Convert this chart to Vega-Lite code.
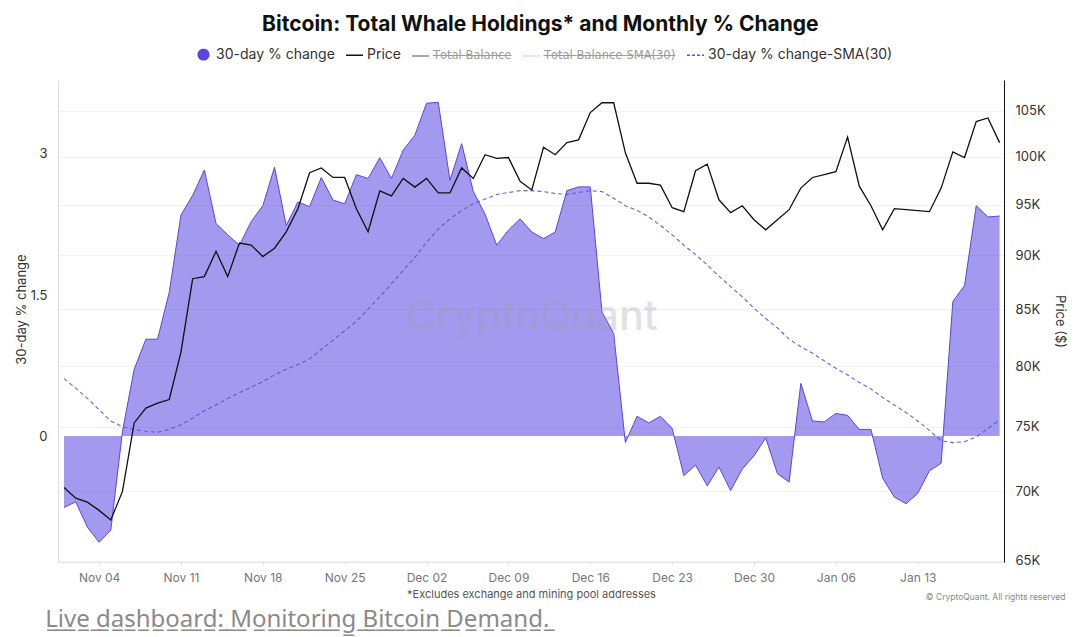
{
  "$schema": "https://vega.github.io/schema/vega-lite/v6.json",
  "background": "white",
  "padding": {"left": 15, "top": 14, "right": 8, "bottom": 4},
  "config": {
    "view": {"stroke": null},
    "font": "Inter",
    "axis": {"labelFont": "Inter", "titleFont": "Inter"},
    "legend": {"labelFont": "Inter"}
  },
  "title": {
    "text": "L\u0332i\u0332v\u0332e\u0332 \u0332d\u0332a\u0332s\u0332h\u0332b\u0332o\u0332a\u0332r\u0332d\u0332:\u0332 \u0332M\u0332o\u0332n\u0332i\u0332t\u0332o\u0332r\u0332i\u0332n\u0332g\u0332 \u0332B\u0332i\u0332t\u0332c\u0332o\u0332i\u0332n\u0332 \u0332D\u0332e\u0332m\u0332a\u0332n\u0332d\u0332.\u0332",
    "orient": "bottom", "anchor": "start", "frame": "bounds",
    "font": "Noto Sans", "fontSize": 24, "fontWeight": "normal", "color": "#8a8a8a",
    "dx": 30, "offset": 6
  },
  "vconcat": [
    {
      "title": {
        "text": "© CryptoQuant. All rights reserved",
        "orient": "bottom", "anchor": "end", "frame": "bounds",
        "font": "Inter", "fontSize": 8.5, "fontWeight": "normal", "color": "#888888",
        "offset": -6
      },
      "vconcat": [
        {
          "title": {
            "text": "Bitcoin: Total Whale Holdings* and Monthly % Change",
            "anchor": "middle", "frame": "bounds",
            "font": "Inter", "fontSize": 21, "fontWeight": "bold", "color": "#111111",
            "offset": 45
          },
          "width": 946,
          "height": 482,
          "data": {
            "values": [
              {"date": "2024-11-01", "change": -0.76, "price": 70300, "sma": 0.61},
              {"date": "2024-11-02", "change": -0.70, "price": 69500, "sma": 0.51},
              {"date": "2024-11-03", "change": -0.97, "price": 69200, "sma": 0.40},
              {"date": "2024-11-04", "change": -1.13, "price": 68600, "sma": 0.28},
              {"date": "2024-11-05", "change": -1.00, "price": 67900, "sma": 0.16},
              {"date": "2024-11-06", "change": 0.05, "price": 70000, "sma": 0.10},
              {"date": "2024-11-07", "change": 0.71, "price": 75300, "sma": 0.07},
              {"date": "2024-11-08", "change": 1.03, "price": 76500, "sma": 0.05},
              {"date": "2024-11-09", "change": 1.03, "price": 76900, "sma": 0.04},
              {"date": "2024-11-10", "change": 1.53, "price": 77200, "sma": 0.07},
              {"date": "2024-11-11", "change": 2.35, "price": 81200, "sma": 0.12},
              {"date": "2024-11-12", "change": 2.56, "price": 87800, "sma": 0.19},
              {"date": "2024-11-13", "change": 2.83, "price": 88000, "sma": 0.27},
              {"date": "2024-11-14", "change": 2.26, "price": 90400, "sma": 0.33},
              {"date": "2024-11-15", "change": 2.14, "price": 88000, "sma": 0.40},
              {"date": "2024-11-16", "change": 2.03, "price": 91200, "sma": 0.46},
              {"date": "2024-11-17", "change": 2.28, "price": 91000, "sma": 0.52},
              {"date": "2024-11-18", "change": 2.45, "price": 89900, "sma": 0.58},
              {"date": "2024-11-19", "change": 2.86, "price": 90700, "sma": 0.65},
              {"date": "2024-11-20", "change": 2.24, "price": 92300, "sma": 0.71},
              {"date": "2024-11-21", "change": 2.49, "price": 94600, "sma": 0.76},
              {"date": "2024-11-22", "change": 2.44, "price": 98300, "sma": 0.82},
              {"date": "2024-11-23", "change": 2.75, "price": 98800, "sma": 0.92},
              {"date": "2024-11-24", "change": 2.51, "price": 97800, "sma": 1.02},
              {"date": "2024-11-25", "change": 2.47, "price": 97800, "sma": 1.12},
              {"date": "2024-11-26", "change": 2.78, "price": 94600, "sma": 1.22},
              {"date": "2024-11-27", "change": 2.74, "price": 92300, "sma": 1.35},
              {"date": "2024-11-28", "change": 2.96, "price": 96400, "sma": 1.48},
              {"date": "2024-11-29", "change": 2.74, "price": 95900, "sma": 1.62},
              {"date": "2024-11-30", "change": 3.04, "price": 97700, "sma": 1.76},
              {"date": "2024-12-01", "change": 3.20, "price": 96800, "sma": 1.90},
              {"date": "2024-12-02", "change": 3.54, "price": 97700, "sma": 2.06},
              {"date": "2024-12-03", "change": 3.55, "price": 96200, "sma": 2.20},
              {"date": "2024-12-04", "change": 2.72, "price": 96200, "sma": 2.31},
              {"date": "2024-12-05", "change": 3.11, "price": 98800, "sma": 2.40},
              {"date": "2024-12-06", "change": 2.60, "price": 97700, "sma": 2.47},
              {"date": "2024-12-07", "change": 2.36, "price": 100200, "sma": 2.52},
              {"date": "2024-12-08", "change": 2.03, "price": 99800, "sma": 2.57},
              {"date": "2024-12-09", "change": 2.19, "price": 99900, "sma": 2.59},
              {"date": "2024-12-10", "change": 2.31, "price": 97400, "sma": 2.61},
              {"date": "2024-12-11", "change": 2.17, "price": 96500, "sma": 2.61},
              {"date": "2024-12-12", "change": 2.10, "price": 101000, "sma": 2.60},
              {"date": "2024-12-13", "change": 2.17, "price": 100200, "sma": 2.58},
              {"date": "2024-12-14", "change": 2.61, "price": 101500, "sma": 2.57},
              {"date": "2024-12-15", "change": 2.65, "price": 101800, "sma": 2.59},
              {"date": "2024-12-16", "change": 2.65, "price": 104800, "sma": 2.61},
              {"date": "2024-12-17", "change": 1.32, "price": 105900, "sma": 2.60},
              {"date": "2024-12-18", "change": 1.09, "price": 105900, "sma": 2.53},
              {"date": "2024-12-19", "change": -0.07, "price": 100400, "sma": 2.45},
              {"date": "2024-12-20", "change": 0.21, "price": 97200, "sma": 2.40},
              {"date": "2024-12-21", "change": 0.14, "price": 97200, "sma": 2.33},
              {"date": "2024-12-22", "change": 0.21, "price": 97000, "sma": 2.24},
              {"date": "2024-12-23", "change": 0.08, "price": 94700, "sma": 2.14},
              {"date": "2024-12-24", "change": -0.42, "price": 94300, "sma": 2.03},
              {"date": "2024-12-25", "change": -0.31, "price": 98500, "sma": 1.93},
              {"date": "2024-12-26", "change": -0.53, "price": 99200, "sma": 1.82},
              {"date": "2024-12-27", "change": -0.33, "price": 95500, "sma": 1.70},
              {"date": "2024-12-28", "change": -0.58, "price": 94200, "sma": 1.59},
              {"date": "2024-12-29", "change": -0.35, "price": 94900, "sma": 1.48},
              {"date": "2024-12-30", "change": -0.21, "price": 93500, "sma": 1.36},
              {"date": "2024-12-31", "change": -0.02, "price": 92500, "sma": 1.25},
              {"date": "2025-01-01", "change": -0.40, "price": 93500, "sma": 1.15},
              {"date": "2025-01-02", "change": -0.49, "price": 94500, "sma": 1.03},
              {"date": "2025-01-03", "change": 0.56, "price": 96700, "sma": 0.95},
              {"date": "2025-01-04", "change": 0.16, "price": 97800, "sma": 0.88},
              {"date": "2025-01-05", "change": 0.15, "price": 98100, "sma": 0.80},
              {"date": "2025-01-06", "change": 0.24, "price": 98400, "sma": 0.72},
              {"date": "2025-01-07", "change": 0.22, "price": 102100, "sma": 0.65},
              {"date": "2025-01-08", "change": 0.07, "price": 96900, "sma": 0.57},
              {"date": "2025-01-09", "change": 0.07, "price": 94900, "sma": 0.50},
              {"date": "2025-01-10", "change": -0.45, "price": 92500, "sma": 0.41},
              {"date": "2025-01-11", "change": -0.65, "price": 94600, "sma": 0.33},
              {"date": "2025-01-12", "change": -0.72, "price": 94500, "sma": 0.25},
              {"date": "2025-01-13", "change": -0.61, "price": 94400, "sma": 0.16},
              {"date": "2025-01-14", "change": -0.37, "price": 94300, "sma": 0.06},
              {"date": "2025-01-15", "change": -0.29, "price": 96700, "sma": -0.05},
              {"date": "2025-01-16", "change": 1.43, "price": 100500, "sma": -0.07},
              {"date": "2025-01-17", "change": 1.60, "price": 99900, "sma": -0.06},
              {"date": "2025-01-18", "change": 2.45, "price": 103800, "sma": -0.01},
              {"date": "2025-01-19", "change": 2.33, "price": 104200, "sma": 0.08},
              {"date": "2025-01-20", "change": 2.34, "price": 101500, "sma": 0.17}
            ]
          },
          "layer": [
            {
              "encoding": {
                "x": {
                  "field": "date", "type": "temporal",
                  "scale": {
                    "type": "utc",
                    "domain": [
                      {"year": 2024, "month": 10, "date": 31, "hours": 11, "minutes": 40, "utc": true},
                      {"year": 2025, "month": 1, "date": 20, "hours": 9, "utc": true}
                    ]
                  },
                  "axis": {
                    "values": [
                      {"year": 2024, "month": 11, "date": 4, "utc": true},
                      {"year": 2024, "month": 11, "date": 11, "utc": true},
                      {"year": 2024, "month": 11, "date": 18, "utc": true},
                      {"year": 2024, "month": 11, "date": 25, "utc": true},
                      {"year": 2024, "month": 12, "date": 2, "utc": true},
                      {"year": 2024, "month": 12, "date": 9, "utc": true},
                      {"year": 2024, "month": 12, "date": 16, "utc": true},
                      {"year": 2024, "month": 12, "date": 23, "utc": true},
                      {"year": 2024, "month": 12, "date": 30, "utc": true},
                      {"year": 2025, "month": 1, "date": 6, "utc": true},
                      {"year": 2025, "month": 1, "date": 13, "utc": true}
                    ],
                    "labelExpr": "utcFormat(datum.value, '%b %d')",
                    "labelFontSize": 12, "labelColor": "#777777", "labelPadding": 6,
                    "domainColor": "#e4e4e4", "tickColor": "#e4e4e4", "tickSize": 4,
                    "grid": false,
                    "title": "*Excludes exchange and mining pool addresses",
                    "titleFontSize": 11, "titleFontWeight": "normal", "titleColor": "#555555",
                    "titlePadding": 5
                  }
                }
              },
              "layer": [
                {
                  "mark": {"type": "area", "fillOpacity": 0.55, "line": {"strokeWidth": 1}},
                  "encoding": {
                    "y": {
                      "field": "change", "type": "quantitative",
                      "scale": {"domain": [-1.34, 3.787], "nice": false, "zero": false},
                      "axis": {
                        "orient": "left", "values": [0, 1.5, 3],
                        "labelExpr": "format(datum.value, '~g')",
                        "labelFontSize": 13, "labelColor": "#333333", "labelPadding": 11,
                        "ticks": false, "grid": false, "domainColor": "#dddddd",
                        "title": "30-day % change", "titleFontSize": 13, "titleFontWeight": "normal",
                        "titleColor": "#333333", "titlePadding": 2, "titleY": 229
                      }
                    },
                    "y2": {"datum": 0},
                    "color": {
                      "datum": "30-day % change",
                      "scale": {
                        "domain": ["30-day % change", "Price", "Total Balance", "Total Balance-SMA(30)", "30-day % change-SMA(30)"],
                        "range": ["#5846e0", "#111111", "#8c8c8c", "#c8c8c8", "#5b4fe0"]
                      },
                      "legend": {
                        "orient": "none", "legendX": 136, "legendY": -35,
                        "direction": "horizontal", "columns": 5, "title": null,
                        "padding": 0, "columnPadding": 8, "labelOffset": 3,
                        "symbolSize": 289, "labelFontSize": 14, "labelColor": "#333333", "labelLimit": 400,
                        "labelExpr": "indexof(['Total Balance','Total Balance-SMA(30)'], datum.label) >= 0 ? replace(datum.label, regexp('(.)', 'g'), '$1\u0336') : datum.label",
                        "encode": {
                          "symbols": {
                            "update": {
                              "shape": {"signal": "datum.value === '30-day % change' ? 'circle' : 'stroke'"},
                              "size": {"signal": "datum.value === '30-day % change' ? 110 : 289"},
                              "fill": {"signal": "datum.value === '30-day % change' ? '#5846e0' : 'transparent'"},
                              "fillOpacity": {"value": 1},
                              "opacity": {"value": 1},
                              "stroke": {"signal": "datum.value === '30-day % change' ? 'transparent' : datum.value === 'Price' ? '#111111' : datum.value === 'Total Balance' ? '#8c8c8c' : datum.value === 'Total Balance-SMA(30)' ? '#c8c8c8' : '#5b4fe0'"},
                              "strokeDash": {"signal": "datum.value === '30-day % change-SMA(30)' ? [3, 2] : datum.value === 'Total Balance-SMA(30)' ? [1.5, 1.5] : [1, 0]"},
                              "strokeWidth": {"value": 1.5}
                            }
                          },
                          "labels": {
                            "update": {
                              "fill": {"signal": "indexof(['Total Balance','Total Balance-SMA(30)'], datum.value) >= 0 ? '#9a9a9a' : '#333333'"},
                              "font": {"signal": "indexof(['Total Balance','Total Balance-SMA(30)'], datum.value) >= 0 ? 'DejaVu Sans' : 'Inter'"},
                              "fontSize": {"signal": "indexof(['Total Balance','Total Balance-SMA(30)'], datum.value) >= 0 ? 11.5 : 14"}
                            }
                          }
                        }
                      }
                    }
                  }
                },
                {
                  "data": {"values": [{"label": "CryptoQuant", "day": "2024-12-11T00:00:00Z", "level": 1.26}]},
                  "mark": {"type": "text", "font": "Inter", "fontSize": 41, "fontWeight": 500, "color": "#9f9cb0", "opacity": 0.3},
                  "encoding": {
                    "x": {"field": "day", "type": "temporal"},
                    "y": {"field": "level", "type": "quantitative"},
                    "text": {"field": "label", "type": "nominal"}
                  }
                },
                {
                  "mark": {"type": "line", "strokeDash": [4, 3], "strokeWidth": 1.1, "opacity": 0.9},
                  "encoding": {
                    "y": {"field": "sma", "type": "quantitative"},
                    "color": {"datum": "30-day % change-SMA(30)"}
                  }
                }
              ]
            },
            {
              "mark": {"type": "line", "strokeWidth": 1.3},
              "encoding": {
                "x": {"field": "date", "type": "temporal"},
                "y": {
                  "field": "price", "type": "quantitative",
                  "scale": {"type": "log", "domain": [64930, 108500], "nice": false},
                  "axis": {
                    "orient": "right",
                    "values": [65000, 70000, 75000, 80000, 85000, 90000, 95000, 100000, 105000],
                    "labelExpr": "(datum.value / 1000) + 'K'",
                    "labelFontSize": 13, "labelColor": "#333333", "labelPadding": 11,
                    "ticks": false, "domainColor": "#111111", "domainWidth": 1,
                    "grid": true, "gridColor": "#f2f2f2",
                    "title": "Price ($)", "titleFontSize": 13, "titleFontWeight": "normal",
                    "titleColor": "#333333", "titlePadding": 7
                  }
                },
                "color": {"datum": "Price"}
              }
            }
          ],
          "resolve": {"scale": {"y": "independent"}}
        }
      ]
    }
  ]
}
